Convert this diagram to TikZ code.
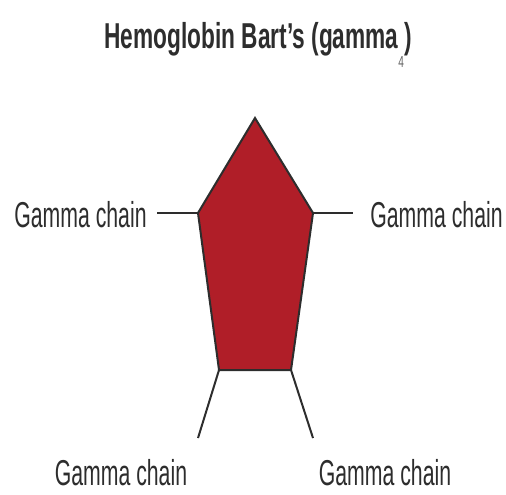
\documentclass[tikz,border=0pt]{standalone}
\usepackage{fontspec}
\setmainfont{Liberation Sans}[FakeStretch=0.63]
\newfontfamily\chainfont{Liberation Sans}[FakeStretch=0.59]
\usepackage{tikz}
\usetikzlibrary{positioning, calc}
\definecolor{hbred}{RGB}{176,30,40}
\definecolor{edgegray}{RGB}{45,45,45}
\definecolor{subgray}{RGB}{100,100,100}
\tikzset{
  unit/.style={fill=hbred, draw=edgegray, line width=1pt, line join=miter},
  link/.style={draw=edgegray, line width=1pt},
  chain/.style={inner sep=0pt, text=edgegray, font=\chainfont\fontsize{18}{20}\selectfont},
  ttl/.style={inner sep=0pt, text=edgegray, font=\fontsize{18}{20}\selectfont\bfseries}
}

\begin{document}
\begin{tikzpicture}[x=0.5pt, y=-0.5pt]

  \useasboundingbox (0,0) rectangle (506,494);

  %% вершины пятиугольника
  \coordinate (top) at (255,118);
  \coordinate (rt)  at (313,213);
  \coordinate (br)  at (291,370);
  \coordinate (bl)  at (219,370);
  \coordinate (lt)  at (198,213);

  \draw[unit] (top) -- (rt) -- (br) -- (bl) -- (lt) -- cycle;

  %% свободные концы линий
  \coordinate (lend)  at (157,213);
  \coordinate (rend)  at (353,213);
  \coordinate (blend) at (198,438);
  \coordinate (brend) at (313,438);

  \foreach \a/\b in {lt/lend, rt/rend, bl/blend, br/brend}
    \draw[link] (\a) -- (\b);

  %% подписи
  \node[chain, anchor=base east] (gl)  at (147,227) {Gamma chain};
  \node[chain, anchor=base west] (gr)  at (370,227) {Gamma chain};
  \node[chain, anchor=base]      (gbl) at (121,485) {Gamma chain};
  \node[chain, anchor=base]      (gbr) at (385,485) {Gamma chain};

  \node[ttl, anchor=base] (title) at (258,48)
    {Hemoglobin Bart’s (gamma\raisebox{-9.5pt}{\fontsize{8}{8}\selectfont\mdseries\color{subgray}4})};

\end{tikzpicture}
\end{document}
